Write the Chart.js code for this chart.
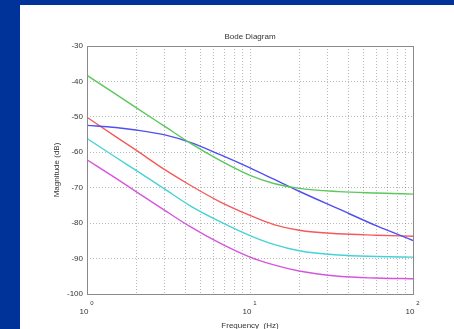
<!DOCTYPE html>
<html>
<head>
<meta charset="utf-8">
<script src="https://cdn.jsdelivr.net/npm/chart.js@4"></script>
<style>
  html, body { margin: 0; padding: 0; background: #003399; overflow: hidden; }
  #panel { position: absolute; left: 20px; top: 5px; width: 434px; height: 324px; background: #fff; }
</style>
</head>
<body>
<div id="panel"><canvas id="bode" width="434" height="324"></canvas></div>
<script>
// frecuencias (Hz) y magnitudes (dB) de cada respuesta
var freqs   = [1, 1.5, 2, 3, 4.3, 6.5, 10, 14, 20, 35, 60, 100];
var verde   = [-38.3, -43.6, -47.4, -52.7, -57.4, -62.2, -66.5, -68.8, -70.2, -71.1, -71.5, -71.8];
var azul    = [-52.4, -53.0, -53.7, -55.1, -57.2, -60.6, -64.4, -67.6, -71.0, -76.0, -80.8, -84.9];
var rojo    = [-50.1, -55.6, -59.4, -64.9, -69.3, -73.9, -77.8, -80.4, -82.0, -83.0, -83.4, -83.7];
var cian    = [-56.1, -61.4, -65.1, -70.4, -75.1, -79.5, -83.5, -86.0, -87.8, -89.0, -89.4, -89.6];
var magenta = [-62.1, -67.3, -71.1, -76.4, -81.0, -85.6, -89.6, -91.8, -93.5, -95.0, -95.5, -95.7];

// lineas de la rejilla logaritmica y etiquetas de las decadas
var gridFreqs = [1, 2, 3, 4, 5, 6, 7, 8, 9, 10, 20, 30, 40, 50, 60, 70, 80, 90, 100];
var decadas = [1, 10, 100];
var exponentes = ['0', '1', '2'];
var yTicks = [-30, -40, -50, -60, -70, -80, -90, -100];

function puntos(serie) {
    return freqs.map(function (f, i) { return { x: f, y: serie[i] }; });
}

function serie(datos, color) {
    return {
        data: puntos(datos),
        borderColor: color,
        borderWidth: 1.4,
        pointRadius: 0,
        fill: false,
        cubicInterpolationMode: 'monotone'
    };
}

var FUENTE = '"Liberation Sans", Arial, sans-serif';

// textos, ejes y recuadro al estilo de Matlab
var rotulos = {
    id: 'rotulos',
    afterDraw: function (chart) {
        var ctx = chart.ctx;
        var area = chart.chartArea;
        var sx = chart.scales.x;
        var sy = chart.scales.y;
        ctx.save();
        ctx.strokeStyle = '#8a8a8a';
        ctx.lineWidth = 1;
        ctx.strokeRect(area.left + 0.5, area.top + 0.5, area.right - area.left, area.bottom - area.top);

        ctx.fillStyle = '#333';
        ctx.font = '8px ' + FUENTE;
        ctx.textAlign = 'right';
        ctx.textBaseline = 'middle';
        yTicks.forEach(function (v) {
            ctx.fillText(String(v), area.left - 4, sy.getPixelForValue(v));
        });

        decadas.forEach(function (d, i) {
            var px = sx.getPixelForValue(d);
            ctx.font = '8px ' + FUENTE;
            ctx.textAlign = 'center';
            ctx.fillText('10', px - 3, 307);
            ctx.font = '6px ' + FUENTE;
            ctx.fillText(exponentes[i], px + 5, 298);
        });

        ctx.font = '8px ' + FUENTE;
        ctx.textAlign = 'center';
        ctx.fillText('Bode Diagram', (area.left + area.right) / 2, 32);
        ctx.fillText('Frequency  (Hz)', (area.left + area.right) / 2, 321);

        ctx.translate(37, (area.top + area.bottom) / 2);
        ctx.rotate(-Math.PI / 2);
        ctx.fillText('Magnitude (dB)', 0, 0);
        ctx.restore();
    }
};

var ctx = document.getElementById('bode').getContext('2d');
var grafico = new Chart(ctx, {
    type: 'line',
    data: {
        datasets: [
            serie(verde, 'rgb(90,200,90)'),
            serie(azul, 'rgb(80,80,240)'),
            serie(rojo, 'rgb(245,90,90)'),
            serie(cian, 'rgb(70,210,215)'),
            serie(magenta, 'rgb(215,85,220)')
        ]
    },
    options: {
        responsive: false,
        animation: false,
        layout: { padding: { left: 67, top: 41, right: 41, bottom: 35 } },
        plugins: { legend: { display: false }, tooltip: { enabled: false } },
        scales: {
            x: {
                type: 'logarithmic',
                min: 1,
                max: 100,
                afterBuildTicks: function (scale) {
                    scale.ticks = gridFreqs.map(function (v) { return { value: v }; });
                },
                ticks: { display: false },
                grid: { color: 'rgba(0,0,0,0.28)', lineWidth: 1, drawTicks: false },
                border: { display: false, dash: [1, 2] }
            },
            y: {
                min: -100,
                max: -30,
                afterBuildTicks: function (scale) {
                    scale.ticks = yTicks.map(function (v) { return { value: v }; });
                },
                ticks: { display: false },
                grid: { color: 'rgba(0,0,0,0.28)', lineWidth: 1, drawTicks: false },
                border: { display: false, dash: [1, 2] }
            }
        }
    },
    plugins: [rotulos]
});
</script>
</body>
</html>
